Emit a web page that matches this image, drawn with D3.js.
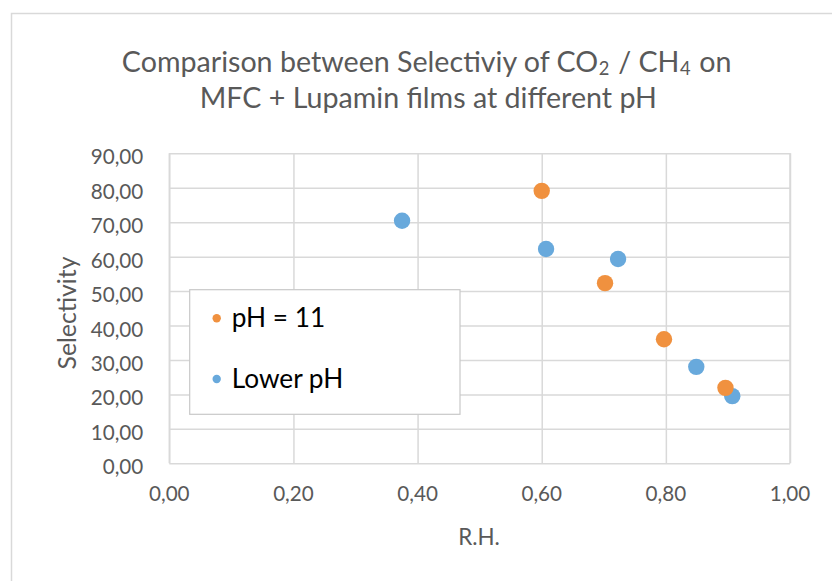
<!DOCTYPE html>
<html>
<head>
<meta charset="utf-8">
<script src="https://cdn.jsdelivr.net/npm/d3@7"></script>
<style>
  html, body { margin: 0; padding: 0; background: #fff; }
  svg text { font-family: Lato, "Open Sans", "DejaVu Sans", sans-serif; }
</style>
</head>
<body>
<svg id="chart" width="832" height="581"></svg>
<script>
// Series: relative humidity vs CO2/CH4 selectivity
const seriesNames = ["pH = 11", "Lower pH"];
const rhHigh = [0.600, 0.702, 0.797, 0.896];
const selHigh = [79.1, 52.3, 36.0, 21.9];
const rhLow = [0.375, 0.607, 0.723, 0.849, 0.907];
const selLow = [70.4, 62.2, 59.3, 28.0, 19.5];

const xTicks = [0, 0.2, 0.4, 0.6, 0.8, 1.0];
const yTicks = [0, 10, 20, 30, 40, 50, 60, 70, 80, 90];

const colHigh = "#F0913F";
const colLow = "#68A9DC";
const gridCol = "#D9D9D9";
const textCol = "#595959";

const svg = d3.select("#chart");

// Chart frame
svg.append("rect")
  .attr("x", 11.5).attr("y", 13.5)
  .attr("width", 900).attr("height", 700)
  .attr("fill", "#fff").attr("stroke", gridCol).attr("stroke-width", 1.5);

const plot = { left: 169.3, right: 790, top: 153.3, bottom: 463.3 };
const x = d3.scaleLinear().domain([0, 1]).range([plot.left, plot.right]);
const y = d3.scaleLinear().domain([0, 90]).range([plot.bottom, plot.top]);

const fmt = v => d3.format(".2f")(v).replace(".", ",");

// Scale a text node's font size so that its rendered width equals target
function fitWidth(sel, target) {
  sel.style("font-size", "100px");
  const w = sel.node().getComputedTextLength();
  const fs = 100 * target / w;
  sel.style("font-size", fs + "px");
  return fs;
}

// Gridlines via axes
const gx = svg.append("g")
  .attr("transform", `translate(0,${plot.bottom})`)
  .call(d3.axisBottom(x).tickValues(xTicks).tickSize(-(plot.bottom - plot.top)).tickFormat(""));
const gy = svg.append("g")
  .attr("transform", `translate(${plot.left},0)`)
  .call(d3.axisLeft(y).tickValues(yTicks).tickSize(-(plot.right - plot.left)).tickFormat(""));
[gx, gy].forEach(g => {
  g.select(".domain").remove();
  g.selectAll("line").attr("stroke", gridCol).attr("stroke-width", 1.5);
});
// plot-area border (left, right)
svg.append("line").attr("x1", plot.left).attr("x2", plot.left)
  .attr("y1", plot.top).attr("y2", plot.bottom).attr("stroke", gridCol).attr("stroke-width", 1.5);
svg.append("line").attr("x1", plot.right).attr("x2", plot.right)
  .attr("y1", plot.top).attr("y2", plot.bottom).attr("stroke", gridCol).attr("stroke-width", 1.5);

// Tick labels
const probe = svg.append("text").text(fmt(90));
const tickFs = fitWidth(probe, 52.6);
probe.remove();

svg.append("g").selectAll("text").data(yTicks).join("text")
  .attr("x", 143.3).attr("y", d => y(d) + 11)
  .attr("text-anchor", "end").attr("fill", textCol)
  .style("font-size", tickFs + "px")
  .text(d => fmt(d));

svg.append("g").selectAll("text").data(xTicks).join("text")
  .attr("x", d => x(d)).attr("y", 501)
  .attr("text-anchor", "middle").attr("fill", textCol)
  .style("font-size", tickFs + "px")
  .text(d => fmt(d));

// Axis titles
const xt = svg.append("text").attr("x", 479).attr("y", 545)
  .attr("text-anchor", "middle").attr("fill", textCol).text("R.H.");
fitWidth(xt, 41.7);

const yt = svg.append("text")
  .attr("transform", "translate(76,313) rotate(-90)")
  .attr("text-anchor", "middle").attr("fill", textCol).text("Selectivity");
fitWidth(yt, 113);

// Title: first line with subscripts, sized to its width; second line as a tspan
const title = svg.append("text").attr("text-anchor", "middle").attr("fill", textCol);
const line1 = title.append("tspan").attr("x", 426.7).attr("y", 72.3);
line1.append("tspan").text("Comparison between Selectiviy of CO");
line1.append("tspan").attr("dy", 3).attr("dx", 0.5).style("font-size", "0.64em").text("2");
line1.append("tspan").attr("dy", -3).attr("dx", 1.5).text(" / CH");
line1.append("tspan").attr("dy", 3).attr("dx", 0.5).style("font-size", "0.64em").text("4");
line1.append("tspan").attr("dy", -3).attr("dx", 1.5).text(" on");
fitWidth(title, 606);
title.append("tspan").attr("x", 428.3).attr("y", 107.5)
  .text("MFC + Lupamin films at different pH");

// Points
const pts = svg.append("g");
pts.selectAll("circle.low").data(d3.zip(rhLow, selLow)).join("circle")
  .attr("class", "low")
  .attr("cx", d => x(d[0])).attr("cy", d => y(d[1])).attr("r", 8.2)
  .attr("fill", colLow);
pts.selectAll("circle.high").data(d3.zip(rhHigh, selHigh)).join("circle")
  .attr("class", "high")
  .attr("cx", d => x(d[0])).attr("cy", d => y(d[1])).attr("r", 8.2)
  .attr("fill", colHigh);

// Legend
const lg = svg.append("g");
lg.append("rect").attr("x", 189.7).attr("y", 289.7).attr("width", 270.3).attr("height", 124.6)
  .attr("fill", "#fff").attr("stroke", "#C8C8C8").attr("stroke-width", 1.2);
const legendItems = [
  { name: seriesNames[0], color: colHigh, cy: 318.3, base: 327.3 },
  { name: seriesNames[1], color: colLow, cy: 379, base: 388.3 }
];
lg.selectAll("circle").data(legendItems).join("circle")
  .attr("cx", 216.7).attr("cy", d => d.cy).attr("r", 4.2).attr("fill", d => d.color);
const lt = lg.selectAll("text").data(legendItems).join("text")
  .attr("x", 231.7).attr("y", d => d.base).attr("fill", "#000")
  .text(d => d.name);
const legFs = fitWidth(d3.select(lt.nodes()[1]), 111.6);
lt.style("font-size", legFs + "px");
</script>
</body>
</html>
